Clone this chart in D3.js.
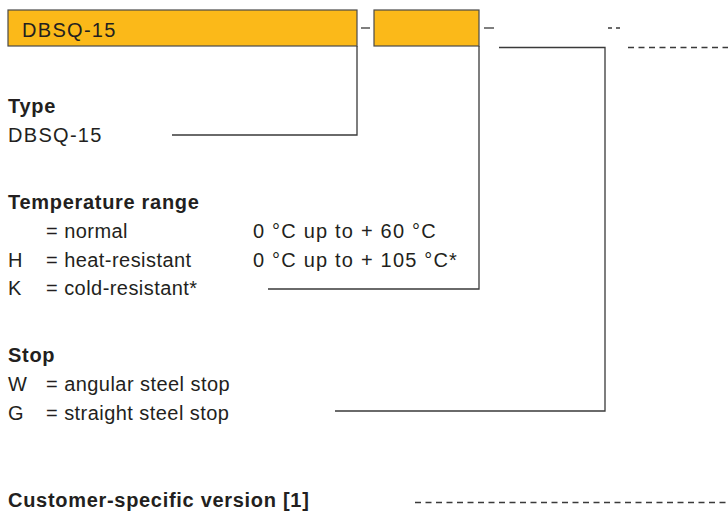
<!DOCTYPE html>
<html>
<head>
<meta charset="utf-8">
<script src="https://cdn.jsdelivr.net/npm/d3@7"></script>
<style>
  html, body { margin: 0; padding: 0; background: #fff; }
  svg text { font-family: "Liberation Sans", Arial, Helvetica, sans-serif; fill: #231f20; }
</style>
</head>
<body>
<svg width="728" height="512"></svg>
<script>
/* type code: boxes on top */
let codeBoxes = ['DBSQ-15', '']

/* sections below */
let sectionTitles = ['Type', 'Temperature range', 'Stop', 'Customer-specific version [1]']
let typeRows = [['', 'DBSQ-15', '']]
let tempRows = [
  ['', '= normal', '0 °C up to + 60 °C'],
  ['H', '= heat-resistant', '0 °C up to + 105 °C*'],
  ['K', '= cold-resistant*', '']
]
let stopRows = [
  ['W', '= angular steel stop', ''],
  ['G', '= straight steel stop', '']
]
let customRows = []

let svg = d3.select('svg'),
  width = 728, height = 512

const ink = '#3a3a3a'
const fs = 20

let boxX = [[8, 357], [374, 479]]
let boxTop = 10, boxH = 36

let head = svg.append('g').attr('class', 'code')
head.selectAll('rect')
  .data(codeBoxes)
  .enter().append('rect')
  .attr('x', (d, i) => boxX[i][0])
  .attr('y', boxTop)
  .attr('width', (d, i) => boxX[i][1] - boxX[i][0])
  .attr('height', boxH)
  .attr('fill', '#fbb919')
  .attr('stroke', '#4a4a4a')
  .attr('stroke-width', 1.2)

head.selectAll('text.box')
  .data(codeBoxes)
  .enter().append('text').attr('class', 'box')
  .attr('x', (d, i) => boxX[i][0] + 14)
  .attr('y', boxTop + 27)
  .attr('font-size', fs)
  .attr('letter-spacing', 1.3)
  .text(d => d)

// small separators between the boxes
let sepX = [[361, 370], [484, 494]]
head.selectAll('line.sep')
  .data(sepX)
  .enter().append('line').attr('class', 'sep')
  .attr('x1', d => d[0]).attr('x2', d => d[1])
  .attr('y1', 28).attr('y2', 28)
  .attr('stroke', ink).attr('stroke-width', 1.3)
head.append('line')
  .attr('x1', 608).attr('x2', 621).attr('y1', 28).attr('y2', 28)
  .attr('stroke', ink).attr('stroke-width', 1.3)
  .attr('stroke-dasharray', '4,4')

/* sections */
let sections = [
  {title: sectionTitles[0], y: 113, rows: typeRows},
  {title: sectionTitles[1], y: 209, rows: tempRows},
  {title: sectionTitles[2], y: 362, rows: stopRows},
  {title: sectionTitles[3], y: 507, rows: customRows}
]
const rowH = 28.8

let sec = svg.selectAll('g.section')
  .data(sections)
  .enter().append('g').attr('class', 'section')

sec.append('text')
  .attr('x', 8).attr('y', d => d.y)
  .attr('font-size', fs)
  .attr('font-weight', 'bold')
  .attr('letter-spacing', 0.7)
  .text(d => d.title)

sec.each(function(s) {
  let g = d3.select(this)
  s.rows.forEach((r, i) => {
    let yy = s.y + rowH * (i + 1)
    // code letter, description, range
    let t = [
      [8, r[0], 0.45],
      [s.rows.length == 1 && !r[0] ? 8 : 46, r[1], r[1].startsWith('=') ? 0.45 : 1.3],
      [253, r[2], 1.2]
    ]
    t.forEach(c => {
      if (!c[1]) return
      g.append('text')
        .attr('x', c[0]).attr('y', yy)
        .attr('font-size', fs)
        .attr('letter-spacing', c[2])
        .text(c[1])
    })
  })
})

/* connector lines */
let conn = svg.append('g').attr('fill', 'none').attr('stroke', ink).attr('stroke-width', 1.3)
conn.append('path').attr('d', d3.line()([[357, 46], [357, 135], [172, 135]]))
conn.append('path').attr('d', d3.line()([[479, 46], [479, 289], [268, 289]]))
conn.append('path').attr('d', d3.line()([[499, 47.5], [605, 47.5], [605, 411], [335, 411]]))
conn.append('line')
  .attr('x1', 628).attr('x2', 728).attr('y1', 47.5).attr('y2', 47.5)
  .attr('stroke-dasharray', '6,4.5')
conn.append('line')
  .attr('x1', 415).attr('x2', 726).attr('y1', 502.5).attr('y2', 502.5)
  .attr('stroke-dasharray', '6,4.5')
</script>
</body>
</html>
